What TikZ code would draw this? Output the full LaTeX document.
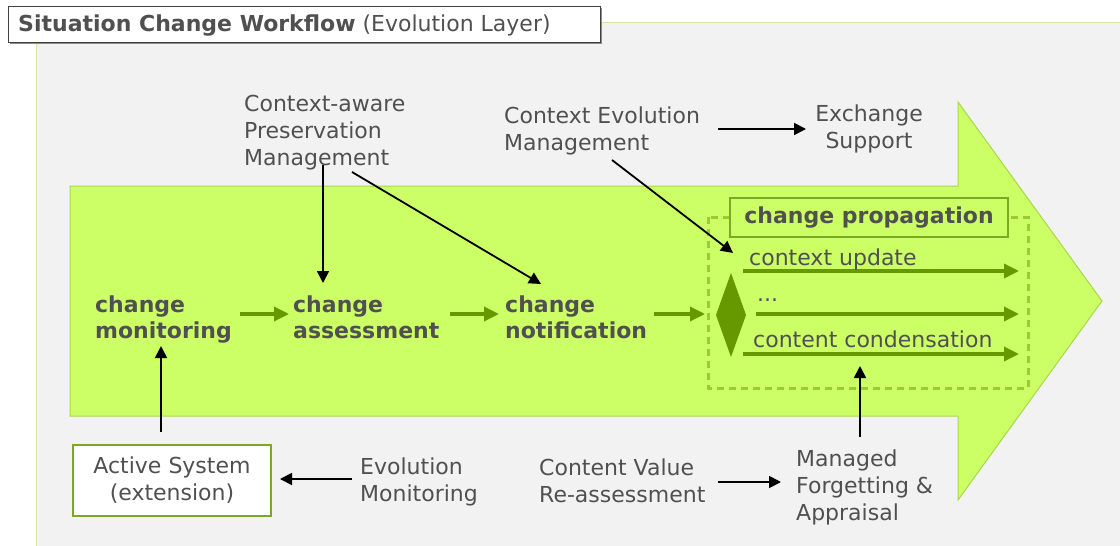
\documentclass[tikz,border=0pt]{standalone}
\usepackage{fontspec}
\setmainfont{DejaVu Sans}
\usetikzlibrary{arrows.meta}
\definecolor{bg}{HTML}{F2F2F2}
\definecolor{lime}{HTML}{CCFF66}
\definecolor{limeedge}{HTML}{A8D84A}
\definecolor{dgreen}{HTML}{669900}
\definecolor{mgreen}{HTML}{99CC33}
\definecolor{txt}{HTML}{505050}
\definecolor{paneledge}{HTML}{D4E6A8}
\tikzset{
  lbl/.style={font=\fontsize{22}{27}\selectfont, text=txt, align=left, inner sep=0pt, anchor=west},
  blbl/.style={font=\fontsize{22}{26}\selectfont\bfseries, text=txt, align=left, inner sep=0pt, anchor=west},
  garrow/.style={draw=dgreen, line width=3.4pt, -{Triangle[length=15pt,width=14pt]}},
  karrow/.style={draw=black, line width=1.8pt, -{Triangle[length=12pt,width=12pt]}},
}
\begin{document}
\begin{tikzpicture}[x=1pt,y=-1pt]
\useasboundingbox (0,0) rectangle (1120,546);
% panel
\fill[bg] (36,22) rectangle (1120,546);
\draw[paneledge, line width=1pt] (36,546) -- (36,22) -- (1120,22);
% header
\fill[black!45] (10,8) rectangle (602,44);
\draw[fill=white, draw=black!75, line width=1pt] (8,6) rectangle (600,42);
\node[font=\fontsize{22}{24}\selectfont, text=txt, anchor=west, inner sep=0pt] (title) at (18,26) {\textbf{Situation Change Workflow} (Evolution Layer)};
% big arrow
\filldraw[fill=lime, draw=limeedge, line width=1pt] (70,186) -- (958,186) -- (958,102) -- (1102,301) -- (958,500) -- (958,416) -- (70,416) -- cycle;
% dashed box
\draw[mgreen, line width=3pt, dash pattern=on 7pt off 5pt] (708,217) rectangle (1028,388);
\node[draw=dgreen!85, line width=2.6pt, fill=lime, minimum width=278pt, minimum height=39pt, inner sep=0pt, font=\fontsize{22}{24}\selectfont\bfseries, text=txt] (prop) at (869,217.5) {change propagation};
% diamond
\fill[dgreen] (731,273) -- (746,315) -- (731,357) -- (716,315) -- cycle;
\coordinate (dia) at (733,253);
% propagation arrows
\coordinate (a1s) at (743,271); \coordinate (a1e) at (1019,271);
\coordinate (a2s) at (756,314); \coordinate (a2e) at (1019,314);
\coordinate (a3s) at (743,354); \coordinate (a3e) at (1019,354);
\draw[garrow] (a1s) -- (a1e);
\draw[garrow] (a2s) -- (a2e);
\draw[garrow] (a3s) -- (a3e);
\node[lbl] (cu) at (749,259) {context update};
\node[lbl] (dots) at (757,300) {...};
\node[lbl] (cc) at (753,339) {content condensation};
% main flow
\node[blbl] (cm) at (95,320) {change\\monitoring};
\node[blbl] (ca) at (293,317) {change\\assessment};
\node[blbl] (cn) at (505,317) {change\\notification};
\coordinate (dl) at (705,314);
\coordinate (m1) at (240,314); \coordinate (m2) at (289,314);
\coordinate (m3) at (450,314); \coordinate (m4) at (499,314);
\coordinate (m5) at (654,314);
\draw[garrow] (m1) -- (m2);
\draw[garrow] (m3) -- (m4);
\draw[garrow] (m5) -- (dl);
% top labels
\node[lbl] (cpm) at (244,133) {Context-aware\\Preservation\\Management};
\node[lbl] (cem) at (504,131) {Context Evolution\\Management};
\node[lbl, align=center, anchor=center] (es) at (869,129) {Exchange\\Support};
\coordinate (caT) at (323,283);
\coordinate (cnT) at (541,284);
\draw[karrow] (323,165) -- (caT);
\draw[karrow] (352,172) -- (cnT);
\draw[karrow] (612,160) -- (dia);
\coordinate (e1) at (718,129); \coordinate (e2) at (806,129);
\draw[karrow] (e1) -- (e2);
% bottom
\node[draw=dgreen!85, line width=2pt, fill=white, minimum width=198pt, minimum height=71pt, inner sep=0pt, align=center, font=\fontsize{22}{27}\selectfont, text=txt] (as) at (172,480) {Active System\\(extension)};
\node[lbl] (em) at (360,482) {Evolution\\Monitoring};
\node[lbl] (cv) at (539,481) {Content Value\\Re-assessment};
\node[lbl] (mf) at (796,487) {Managed\\Forgetting \&\\Appraisal};
\coordinate (cmB) at (161,346);
\coordinate (dbB) at (860,366);
\coordinate (asR) at (280,479);
\draw[karrow] (161,432) -- (cmB);
\draw[karrow] (352,479) -- (asR);
\draw[karrow] (718,482) -- (781,482);
\draw[karrow] (860,437) -- (dbB);
\end{tikzpicture}
\end{document}
